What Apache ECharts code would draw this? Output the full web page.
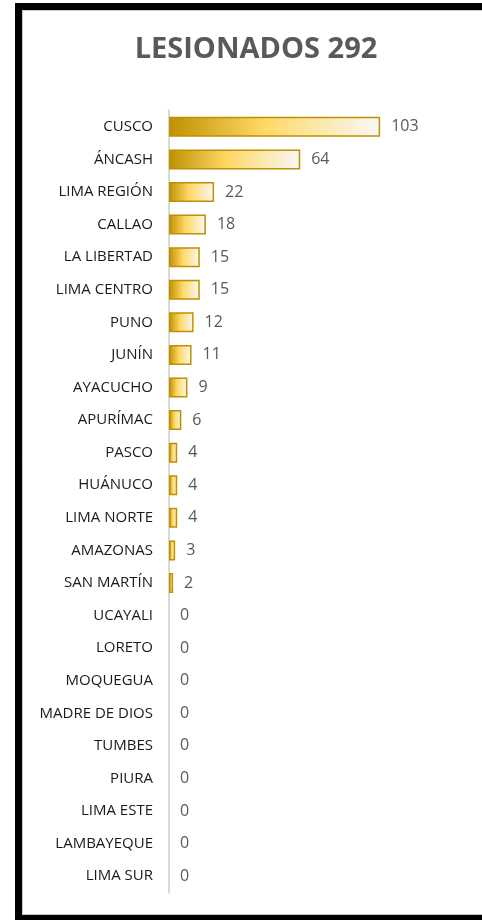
<!DOCTYPE html>
<html>
<head>
<meta charset="utf-8">
<script src="https://cdn.jsdelivr.net/npm/echarts@6/dist/echarts.min.js"></script>
<style>
html,body{margin:0;padding:0;background:#fff;}
#chart{width:482px;height:920px;}
</style>
</head>
<body>
<div id="chart"></div>
<script>
const titleText = 'LESIONADOS 292';
const categories = ['CUSCO','ÁNCASH','LIMA REGIÓN','CALLAO','LA LIBERTAD','LIMA CENTRO','PUNO','JUNÍN','AYACUCHO','APURÍMAC','PASCO','HUÁNUCO','LIMA NORTE','AMAZONAS','SAN MARTÍN','UCAYALI','LORETO','MOQUEGUA','MADRE DE DIOS','TUMBES','PIURA','LIMA ESTE','LAMBAYEQUE','LIMA SUR'];
const values = [103,64,22,18,15,15,12,11,9,6,4,4,4,3,2,0,0,0,0,0,0,0,0,0];

const chart = echarts.init(document.getElementById('chart'), null, {renderer:'canvas'});
const font = 'Open Sans, Noto Sans, sans-serif';
const barData = values.map(v => v > 0 ? v : {value:v, itemStyle:{borderWidth:0, opacity:0}});
chart.setOption({
  animation:false,
  backgroundColor:'#fff',
  title:{
    text:titleText,
    left:251, top:30, textAlign:'center',
    textStyle:{fontFamily:font, fontWeight:'bold', fontSize:29, color:'#595959'}
  },
  graphic:[
    {type:'rect', shape:{x:18.5,y:6.5,width:520,height:912}, style:{fill:null, stroke:'#000', lineWidth:7}, z:100},
    {type:'rect', shape:{x:22.5,y:10.5,width:520,height:904}, style:{fill:null, stroke:'#c8c8c8', lineWidth:1}, z:100}
  ],
  grid:{left:169, right:26, top:110.5, bottom:27.5, containLabel:false},
  xAxis:{type:'value', min:0, max:140, show:false},
  yAxis:{
    type:'category', data:categories, inverse:true,
    axisLine:{show:true, lineStyle:{color:'#d9d9d9', width:2}},
    axisTick:{show:false},
    axisLabel:{fontFamily:font, fontSize:15, color:'#1a1a1a', margin:16}
  },
  series:[{
    type:'bar', data:barData, barWidth:20,
    itemStyle:{
      color:new echarts.graphic.LinearGradient(0,0,1,0,[
        {offset:0,color:'#bf9000'},
        {offset:0.45,color:'#ffd966'},
        {offset:1,color:'#f8f8f8'}
      ]),
      borderColor:'#bf9000', borderWidth:1.5
    },
    label:{show:true, position:'right', distance:11, fontFamily:font, fontSize:16, color:'#595959', opacity:1}
  }]
});
</script>
</body>
</html>
